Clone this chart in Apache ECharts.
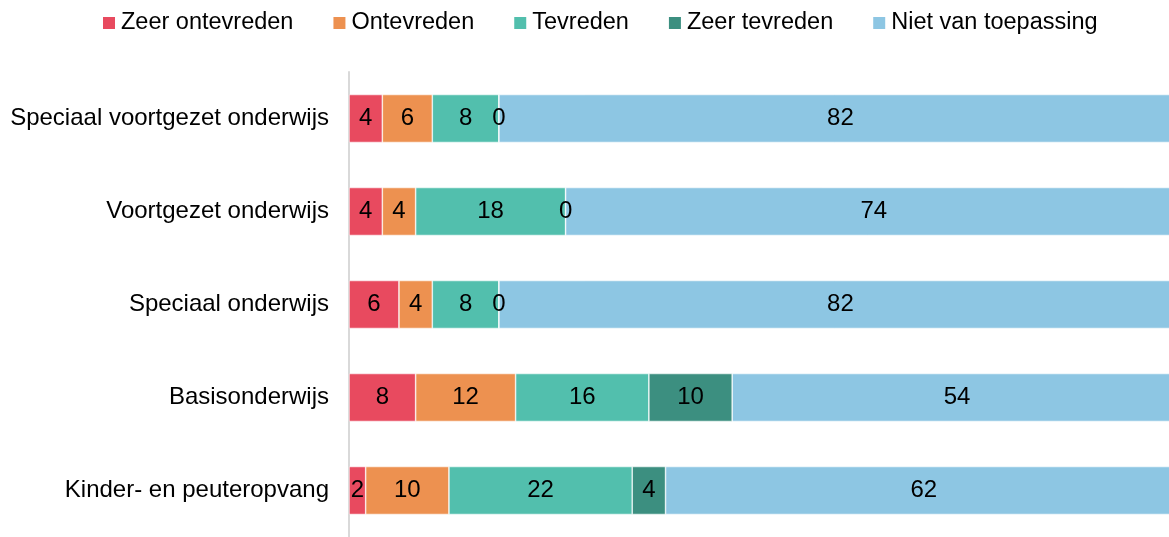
<!DOCTYPE html>
<html>
<head>
<meta charset="utf-8">
<script src="https://cdn.jsdelivr.net/npm/echarts@6/dist/echarts.min.js"></script>
<style>
  html, body { margin: 0; padding: 0; background: #fff; }
  #chart { width: 1169px; height: 537px; }
</style>
</head>
<body>
<div id="chart"></div>
<script>
// top to bottom as in the picture
const categories = [
  'Speciaal voortgezet onderwijs',
  'Voortgezet onderwijs',
  'Speciaal onderwijs',
  'Basisonderwijs',
  'Kinder- en peuteropvang'
]
const seriesNames = ['Zeer ontevreden', 'Ontevreden', 'Tevreden', 'Zeer tevreden', 'Niet van toepassing']
const zeerOntevreden = [4, 4, 6, 8, 2]
const ontevreden = [6, 4, 4, 12, 10]
const tevreden = [8, 18, 8, 16, 22]
const zeerTevreden = [0, 0, 0, 10, 4]
const nietVanToepassing = [82, 74, 82, 54, 62]
const colors = ['#e84a5f', '#ed9150', '#52bfad', '#3c8f80', '#8dc6e3']

const values = [zeerOntevreden, ontevreden, tevreden, zeerTevreden, nietVanToepassing]

const chart = echarts.init(document.getElementById('chart'))
chart.setOption({
  animation: false,
  textStyle: { fontFamily: 'Liberation Sans, Arial, sans-serif' },
  legend: {
    top: 6,
    left: 96,
    itemWidth: 14,
    itemHeight: 14,
    itemGap: 38,
    icon: 'rect',
    textStyle: { fontSize: 23.5, color: '#000' },
    data: seriesNames
  },
  // the 100% end of the axis lies just past the right edge of the picture
  grid: { left: 349, right: -13, top: 72, bottom: 0, outerBoundsMode: 'none' },
  xAxis: {
    type: 'value',
    min: 0,
    max: 100,
    show: false
  },
  yAxis: {
    type: 'category',
    inverse: true,
    data: categories,
    axisLine: { show: true, lineStyle: { color: '#d9d9d9', width: 2 } },
    axisTick: { show: false },
    axisLabel: { fontSize: 24, color: '#000', margin: 20 }
  },
  series: seriesNames.map((name, i) => ({
    name,
    type: 'bar',
    stack: 'total',
    barWidth: 48,
    data: values[i],
    itemStyle: { color: colors[i], borderColor: '#fff', borderWidth: 0.6 },
    label: {
      show: true,
      position: 'inside',
      fontSize: 24,
      color: '#000'
    }
  }))
})
</script>
</body>
</html>
